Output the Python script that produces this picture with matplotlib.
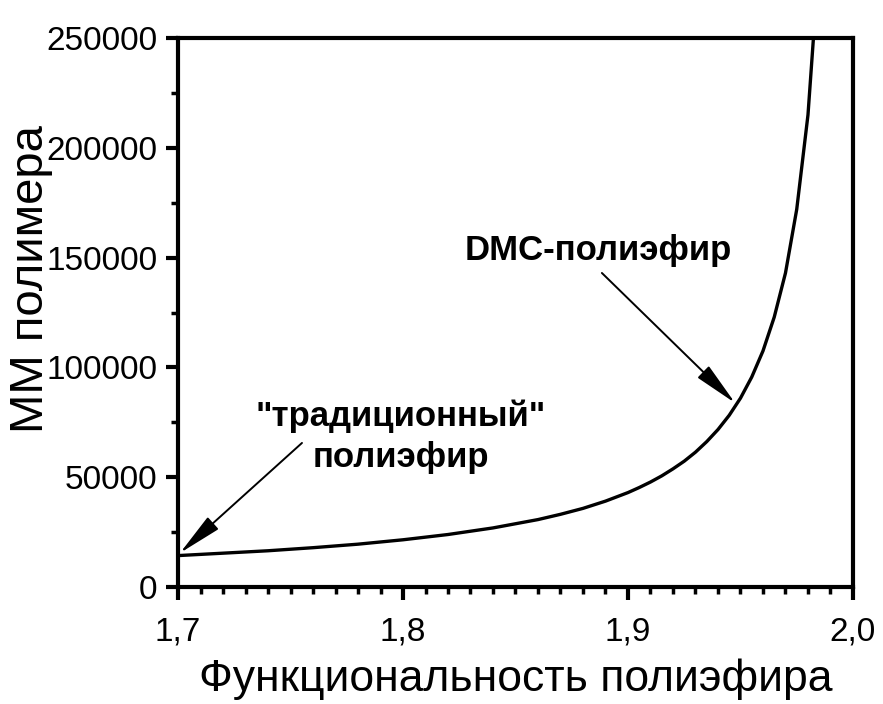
import matplotlib.pyplot as plt
from matplotlib.ticker import MultipleLocator, FuncFormatter

# functionality of the polyether vs. molecular weight of the resulting polymer
functionality = [1.70, 1.72, 1.74, 1.76, 1.78, 1.80, 1.82, 1.84, 1.86, 1.87,
                 1.88, 1.89, 1.90, 1.905, 1.91, 1.915, 1.92, 1.925, 1.93, 1.935,
                 1.94, 1.945, 1.95, 1.955, 1.96, 1.965, 1.97, 1.975, 1.98, 1.985]
mol_weight = [14300, 15400, 16500, 17900, 19500, 21500, 23900, 26900, 30700, 33100,
              35800, 39100, 43000, 45300, 47800, 50600, 53800, 57300, 61400, 66200,
              71700, 78200, 86000, 95600, 107500, 122900, 143000, 172000, 215000, 287000]

x_ticks = [1.7, 1.8, 1.9, 2.0]
y_ticks = [0, 50000, 100000, 150000, 200000, 250000]

plt.rcParams["font.family"] = ["Liberation Sans", "DejaVu Sans"]

fig = plt.figure(figsize=(8.83, 7.04), dpi=100)
ax = fig.add_axes([0.2016, 0.1662, 0.7644, 0.7798])

ax.plot(functionality, mol_weight, color="black", lw=2.4)
ax.set_xlim(1.7, 2.0)
ax.set_ylim(0, 250000)

ax.set_xticks(x_ticks)
ax.set_yticks(y_ticks)
ax.xaxis.set_minor_locator(MultipleLocator(0.01))
ax.yaxis.set_minor_locator(MultipleLocator(25000))
ax.xaxis.set_major_formatter(FuncFormatter(lambda v, p: f"{v:.1f}".replace(".", ",")))
ax.yaxis.set_major_formatter(FuncFormatter(lambda v, p: f"{int(v)}"))
ax.tick_params(which="major", direction="out", length=9, width=3, labelsize=24)
ax.tick_params(axis="x", which="major", pad=12)
ax.tick_params(axis="y", which="major", pad=6)
ax.tick_params(which="minor", direction="out", length=5, width=2.5)
for side in ax.spines.values():
    side.set_linewidth(3)

ax.set_xlabel("Функциональность полиэфира", fontsize=32, labelpad=8)
ax.set_ylabel("ММ полимера", fontsize=34, va="center")
ax.yaxis.set_label_coords(-0.218, 0.561)

arrow = dict(arrowstyle="-|>,head_length=1.1,head_width=0.2", color="black", lw=1.4,
             shrinkA=0, shrinkB=0, mutation_scale=25)

ax.text(1.8867, 148900, "DMC-полиэфир", fontsize=25, fontweight="bold",
        ha="center", va="baseline")
ax.annotate("", xy=(1.9476, 83800), xytext=(1.8884, 143000), arrowprops=arrow)

ax.text(1.7991, 68300, "\"традиционный\"\nполиэфир", fontsize=25,
        fontweight="bold", ha="center", va="center", linespacing=1.3)
ax.annotate("", xy=(1.7009, 15500), xytext=(1.7551, 65600), arrowprops=arrow)

fig.savefig("out.png", dpi=100)
